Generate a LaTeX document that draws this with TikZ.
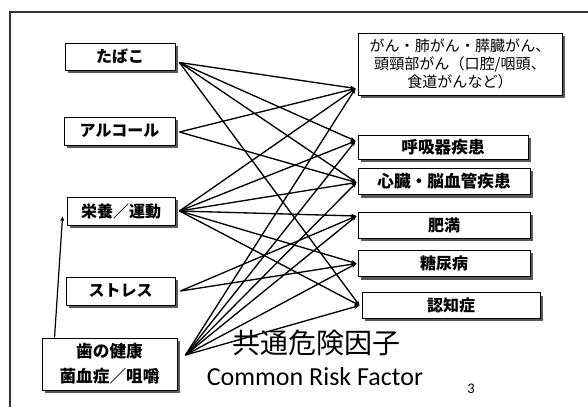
\documentclass[tikz,border=0pt]{standalone}
\usepackage{fontspec}
\setmainfont{Carlito}
\newfontfamily\jp{Noto Sans CJK JP}
\usetikzlibrary{shadows,arrows.meta,calc}
\begin{document}
\begin{tikzpicture}[x=0.75pt,y=-0.75pt,
  box/.style={draw=black,line width=0.7pt,fill=white,inner sep=0pt,align=center,
    font=\jp\bfseries\fontsize{12}{14}\selectfont,
    drop shadow={shadow xshift=2pt,shadow yshift=-2pt,fill=black!65,opacity=1}},
  link/.style={line width=1pt,-{Stealth[length=4pt,width=3pt]}},
  uplink/.style={line width=0.9pt,-{Stealth[length=3.5pt,width=3pt]}}]
\useasboundingbox (0,0) rectangle (588,407);
\fill[white] (0,0) rectangle (588,407);
\draw[line width=0.8pt, black!80] (10,407) -- (10,12) -- (588,12);

% left boxes
\node[box,minimum width=82.5pt,minimum height=20.25pt] (tob) at (120,56.5) {たばこ};
\node[box,minimum width=83.25pt,minimum height=21pt] (alc) at (119.5,131) {アルコール};
\node[box,minimum width=81pt,minimum height=21pt] (nut) at (121,211) {栄養／運動};
\node[box,minimum width=81.75pt,minimum height=21pt] (str) at (120.5,291) {ストレス};
\node[box,minimum width=101.25pt,minimum height=39pt,font=\jp\bfseries\fontsize{12.5}{19}\selectfont] (den) at (109.5,364) {歯の健康\\菌血症／咀嚼};

% right boxes
\node[box,minimum width=153pt,minimum height=46.5pt,font=\jp\fontsize{11.3}{13.5}\selectfont] (can) at (460,64) {がん・肺がん・膵臓がん、\\頭頸部がん（口腔/咽頭、\\食道がんなど）};
\node[box,minimum width=127.5pt,minimum height=18pt,font=\jp\bfseries\fontsize{12.5}{14}\selectfont] (res) at (443,147) {呼吸器疾患};
\node[box,minimum width=129pt,minimum height=20pt,font=\jp\bfseries\fontsize{12.5}{14}\selectfont] (car) at (444,181.5) {心臓・脳血管疾患};
\node[box,minimum width=129pt,minimum height=19.5pt] (obe) at (444,225) {肥満};
\node[box,minimum width=129pt,minimum height=20pt] (dia) at (444,263.5) {糖尿病};
\node[box,minimum width=133.5pt,minimum height=19pt] (dem) at (451,305.5) {認知症};

% anchor points
\coordinate (tobR) at ($(tob.east)+(4,6)$);
\coordinate (alcR) at ($(alc.east)+(4,1)$);
\coordinate (nutR) at ($(nut.east)+(4,0)$);
\coordinate (strR) at ($(str.east)+(5,0)$);
\coordinate (denR) at ($(den.east)+(8,-9)$);
\coordinate (canL) at ($(can.south west)+(-2,-7)$);
\coordinate (resL) at ($(res.west)+(-2,-6)$);
\coordinate (carL) at ($(car.west)+(-1,1)$);
\coordinate (obeL) at ($(obe.west)+(-1,-9)$);
\coordinate (diaL) at ($(dia.west)+(-1,0)$);
\coordinate (demL) at ($(dem.west)+(-2,0)$);

% connectors
\foreach \t in {canL,resL,carL,demL} \draw[link] (tobR) -- (\t);
\foreach \t in {canL,carL} \draw[link] (alcR) -- (\t);
\foreach \t in {canL,resL,carL,obeL,diaL,demL} \draw[link] (nutR) -- (\t);
\foreach \t in {obeL,diaL} \draw[link] (strR) -- (\t);
\foreach \t in {canL,resL,carL,obeL,diaL,demL} \draw[link] (denR) -- (\t);

\coordinate (nutA) at ($(nut.south west)+(-4,-9)$);
\draw[uplink] ($(den.north west)+(13,0)$) -- (nutA);

% titles
\node[font=\jp\fontsize{21}{24}\selectfont] (t1) at (316,343) {共通危険因子};
\node[font=\fontsize{19.5}{22}\selectfont] (t2) at (315,377) {Common Risk Factor};
\node[font=\fontsize{11}{12}\selectfont] (pg) at (471,389) {3};
\end{tikzpicture}
\end{document}
